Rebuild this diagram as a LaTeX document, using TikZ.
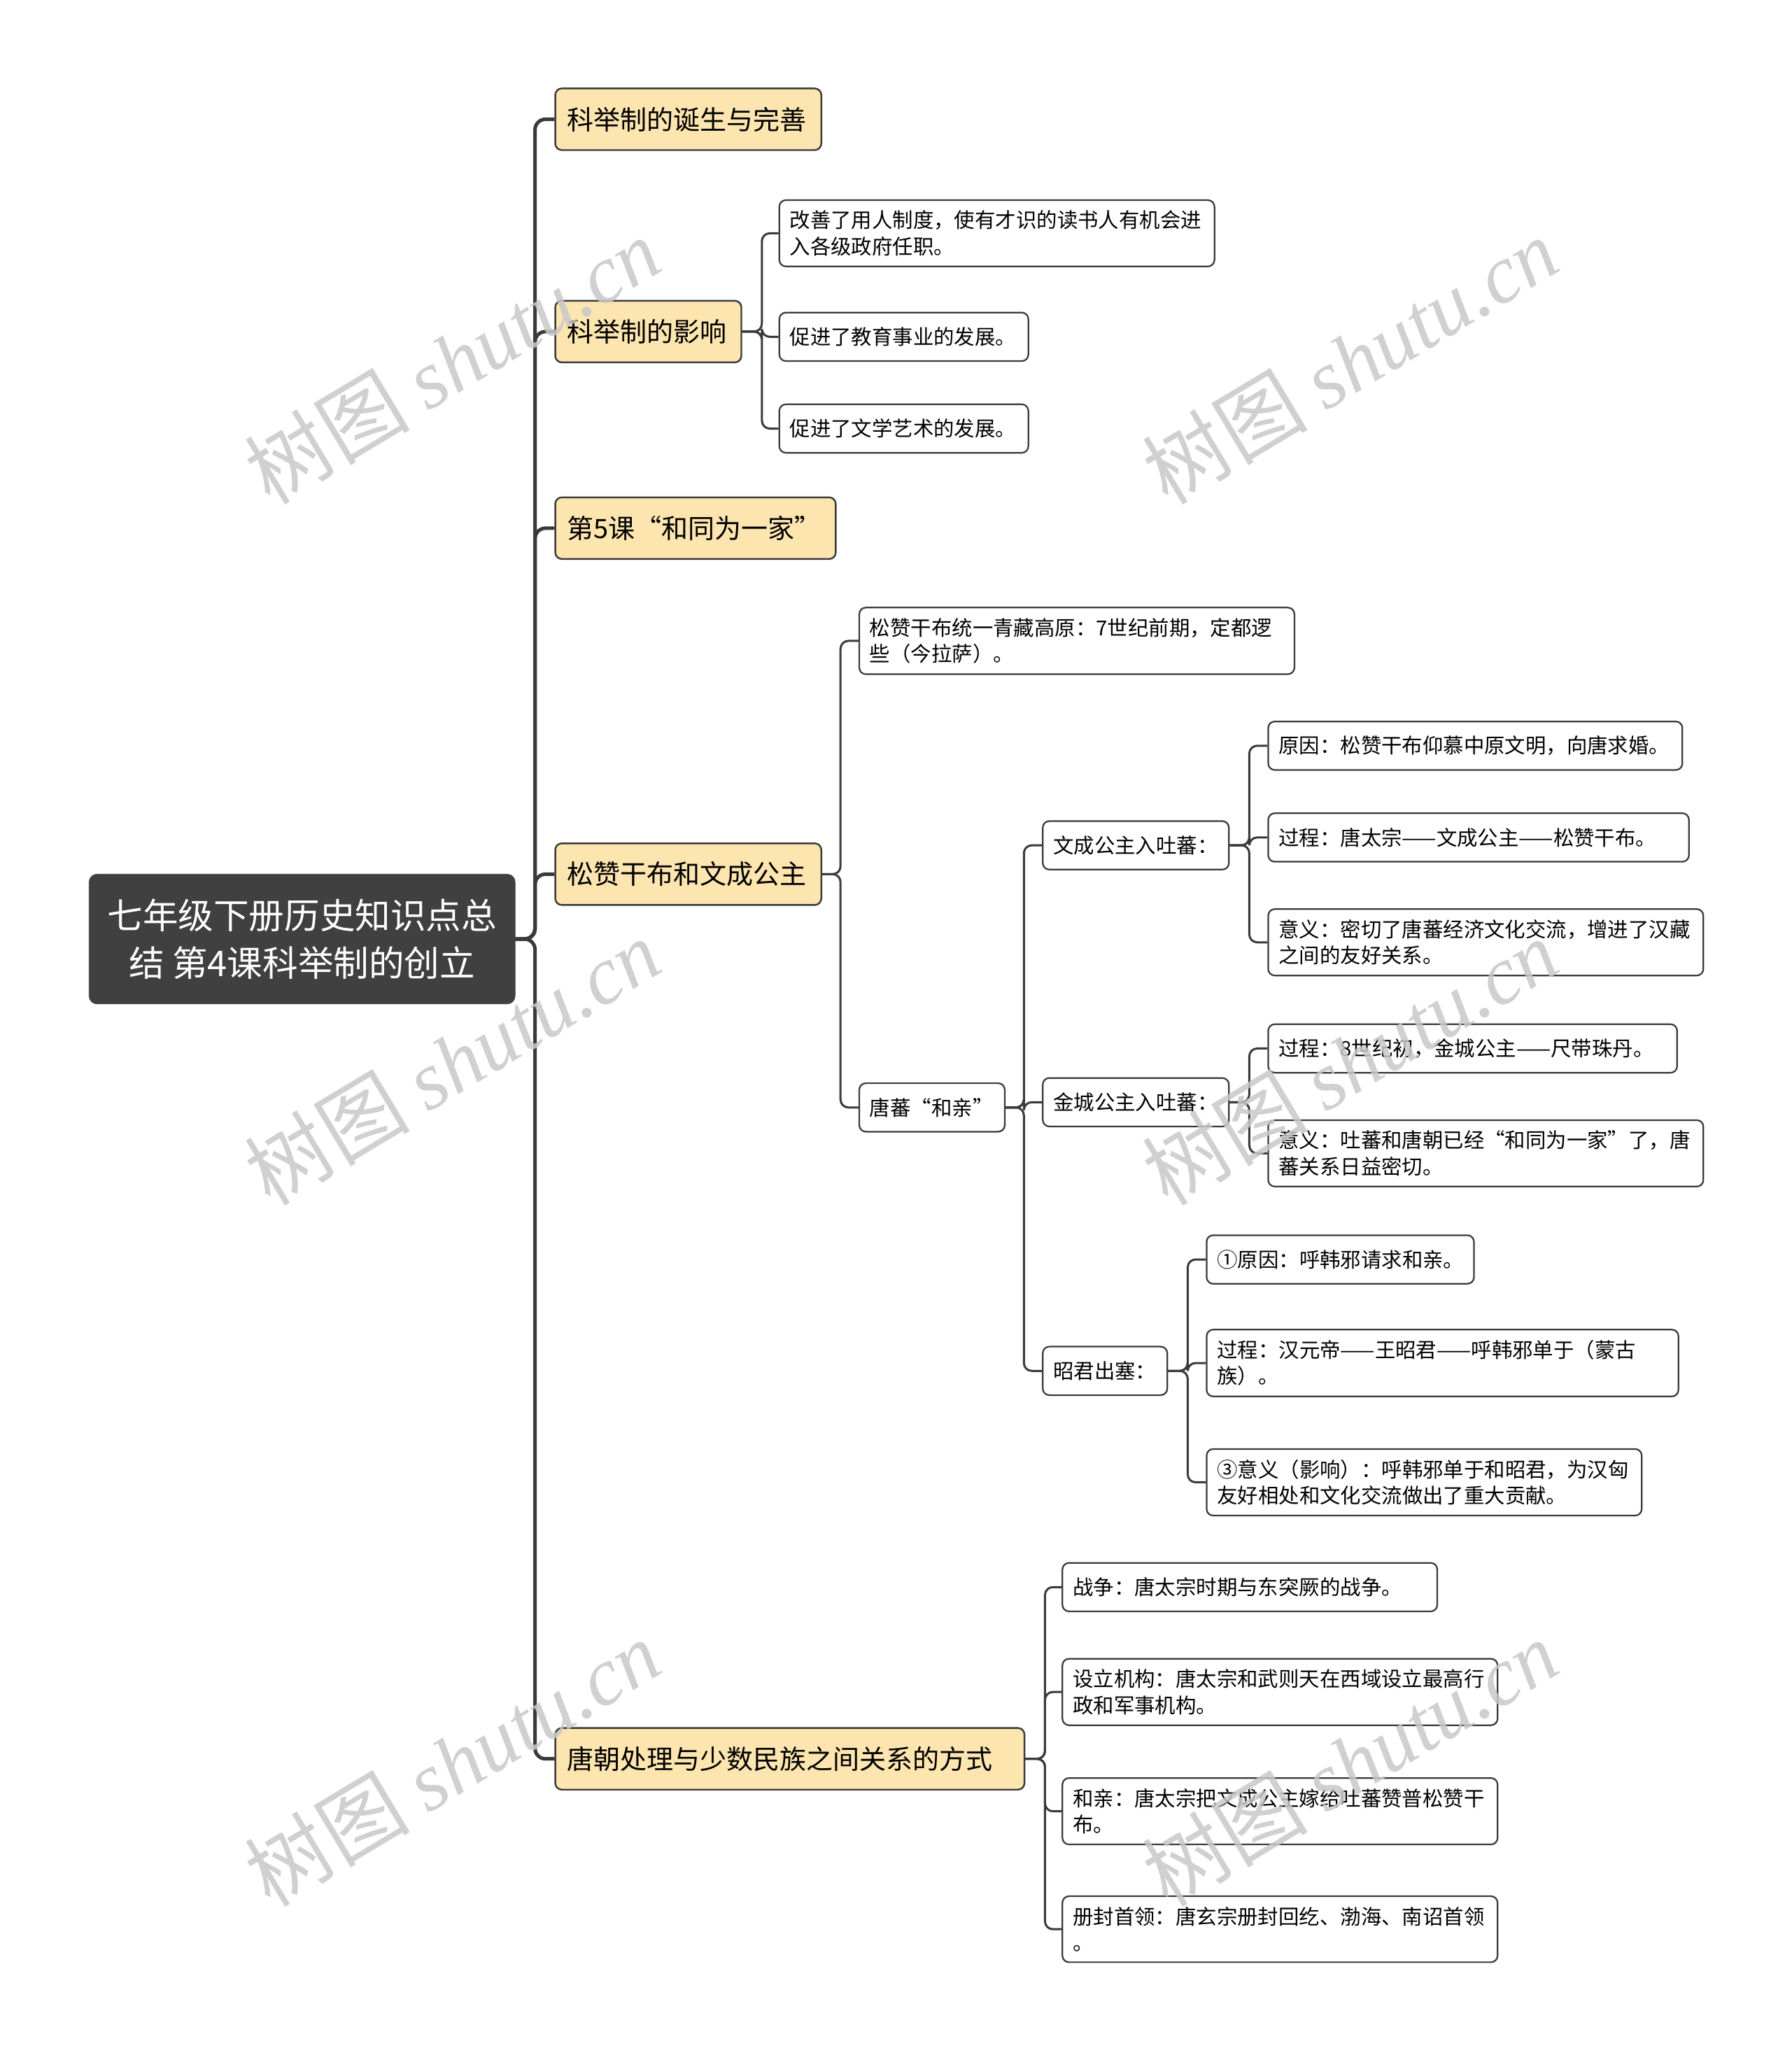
\documentclass[tikz,border=0pt]{standalone}
\usepackage{fontspec}
\setmainfont{Noto Sans CJK SC}
\newfontfamily\wmfont{Liberation Serif}
\definecolor{topicyellow}{HTML}{FDE5B0}
\definecolor{linegray}{HTML}{3A3A3A}
\definecolor{rootgray}{HTML}{404040}
\definecolor{wmgray}{HTML}{C8C8C8}

\tikzset{
  rootbox/.style={fill=rootgray, draw=rootgray, rounded corners=6pt, text=white,
    font=\fontsize{27}{36}\selectfont, align=center, minimum width=325pt, minimum height=99pt},
  topic/.style={draw=linegray, line width=1.3pt, rounded corners=5pt, fill=topicyellow,
    font=\fontsize{20.3}{26}\selectfont, inner xsep=9pt, inner ysep=6pt, minimum height=47pt,
    anchor=west, align=left},
  leaf/.style={draw=linegray, line width=1.2pt, rounded corners=5pt, fill=white,
    font=\fontsize{15.7}{20}\selectfont, inner xsep=8pt, inner ysep=8pt, minimum height=37pt,
    anchor=west, align=left},
  trunk/.style={draw=linegray, line width=2.7pt, rounded corners=8pt},
  twig/.style={draw=linegray, line width=1.6pt, rounded corners=6pt},
  wm/.style={text=wmgray, opacity=0.85, rotate=31, font=\fontsize{63}{70}\selectfont},
}

\begin{document}
\begin{tikzpicture}[x=1pt,y=-1pt]
  \useasboundingbox (0,0) rectangle (1367,1568);

  % root and main topics
  \node[rootbox] (root) at (230.5,716.5) {七年级下册历史知识点总\\结 第4课科举制的创立};
  \node[topic, text width=185pt] (birth) at (423,91) {科举制的诞生与完善};
  \node[topic, text width=124pt] (effect) at (423,253) {科举制的影响};
  \node[topic, text width=196pt] (lesson) at (423,403) {第5课“和同为一家”};
  \node[topic, text width=185pt] (songzan) at (423,667) {松赞干布和文成公主};
  \node[topic, text width=340pt] (ways) at (423,1342) {唐朝处理与少数民族之间关系的方式};

  % 科举制的影响
  \node[leaf, text width=316pt] (eff1) at (594,178) {改善了用人制度，使有才识的读书人有机会进\\入各级政府任职。};
  \node[leaf, text width=174pt] (eff2) at (594,257) {促进了教育事业的发展。};
  \node[leaf, text width=174pt] (eff3) at (594,327) {促进了文学艺术的发展。};

  % 松赞干布和文成公主
  \node[leaf, text width=316pt] (unify) at (655,489) {松赞干布统一青藏高原：7世纪前期，定都逻\\些（今拉萨）。};
  \node[leaf, text width=95pt] (heqin) at (655,845) {唐蕃“和亲”};
  \node[leaf, text width=126pt] (wencheng) at (795,645) {文成公主入吐蕃：};
  \node[leaf, text width=126pt] (jincheng) at (795,841) {金城公主入吐蕃：};
  \node[leaf, text width=79pt] (zhaojun) at (795,1046) {昭君出塞：};

  \node[leaf, text width=300pt] (wc1) at (967,569) {原因：松赞干布仰慕中原文明，向唐求婚。};
  \node[leaf, text width=305pt] (wc2) at (967,639) {过程：唐太宗——文成公主——松赞干布。};
  \node[leaf, text width=316pt] (wc3) at (967,719) {意义：密切了唐蕃经济文化交流，增进了汉藏\\之间的友好关系。};

  \node[leaf, text width=296pt] (jc1) at (967,800) {过程：8世纪初，金城公主——尺带珠丹。};
  \node[leaf, text width=316pt] (jc2) at (967,880) {意义：吐蕃和唐朝已经“和同为一家”了，唐\\蕃关系日益密切。};

  \node[leaf, text width=188pt] (zj1) at (920,961) {①原因：呼韩邪请求和亲。};
  \node[leaf, text width=344pt] (zj2) at (920,1040) {过程：汉元帝——王昭君——呼韩邪单于（蒙古\\族）。};
  \node[leaf, text width=316pt] (zj3) at (920,1131) {③意义（影响）：呼韩邪单于和昭君，为汉匈\\友好相处和文化交流做出了重大贡献。};

  % 唐朝处理与少数民族之间关系的方式
  \node[leaf, text width=270pt] (way1) at (810,1211) {战争：唐太宗时期与东突厥的战争。};
  \node[leaf, text width=316pt] (way2) at (810,1291) {设立机构：唐太宗和武则天在西域设立最高行\\政和军事机构。};
  \node[leaf, text width=316pt] (way3) at (810,1382) {和亲：唐太宗把文成公主嫁给吐蕃赞普松赞干\\布。};
  \node[leaf, text width=316pt] (way4) at (810,1472) {册封首领：唐玄宗册封回纥、渤海、南诏首领\\。};

  % connectors
  \foreach \t in {birth,effect,lesson,songzan,ways}
    \draw[trunk] (root.east) -- ++(15,0) |- (\t.west);
  \foreach \c in {eff1,eff2,eff3}
    \draw[twig] (effect.east) -- ++(15,0) |- (\c.west);
  \foreach \c in {unify,heqin}
    \draw[twig] (songzan.east) -- ++(14,0) |- (\c.west);
  \foreach \c in {wencheng,jincheng,zhaojun}
    \draw[twig] (heqin.east) -- ++(14,0) |- (\c.west);
  \foreach \c in {wc1,wc2,wc3}
    \draw[twig] (wencheng.east) -- ++(15,0) |- (\c.west);
  \foreach \c in {jc1,jc2}
    \draw[twig] (jincheng.east) -- ++(15,0) |- (\c.west);
  \foreach \c in {zj1,zj2,zj3}
    \draw[twig] (zhaojun.east) -- ++(15,0) |- (\c.west);
  \foreach \c in {way1,way2,way3,way4}
    \draw[twig] (ways.east) -- ++(15,0) |- (\c.west);

  % watermark
  \node[wm] (wm1) at (345,275) {树图 {\wmfont\itshape shutu.cn}};
  \node[wm] (wm2) at (1030,275) {树图 {\wmfont\itshape shutu.cn}};
  \node[wm] (wm3) at (345,810) {树图 {\wmfont\itshape shutu.cn}};
  \node[wm] (wm4) at (1030,810) {树图 {\wmfont\itshape shutu.cn}};
  \node[wm] (wm5) at (345,1345) {树图 {\wmfont\itshape shutu.cn}};
  \node[wm] (wm6) at (1030,1345) {树图 {\wmfont\itshape shutu.cn}};
\end{tikzpicture}
\end{document}
